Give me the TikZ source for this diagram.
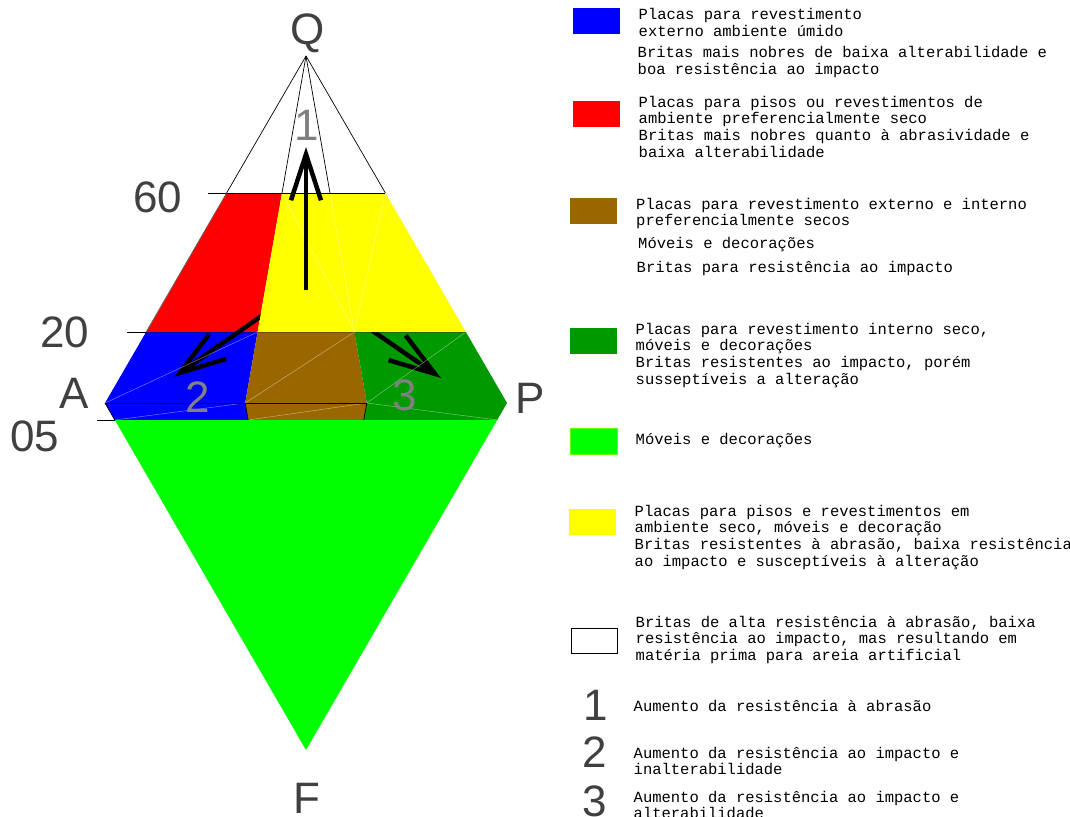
\documentclass[tikz,border=0pt]{standalone}
\usepackage{fontspec}
\setmonofont{Liberation Mono}
\newfontfamily\lblfont{Liberation Sans}
\usetikzlibrary{arrows.meta,positioning}
\definecolor{azul}{RGB}{0,0,255}
\definecolor{vermelho}{RGB}{255,0,0}
\definecolor{amarelo}{RGB}{255,255,0}
\definecolor{marrom}{RGB}{153,102,0}
\definecolor{verdeesc}{RGB}{0,153,0}
\definecolor{verdecla}{RGB}{0,255,0}

\begin{document}
\begin{tikzpicture}[x=1pt, y=-1pt,
    swatch/.style={rectangle, inner sep=0pt, minimum width=47pt, minimum height=26pt},
    legtext/.style={anchor=base west, inner sep=0pt, align=left, font=\ttfamily\fontsize{15.5}{16.7}\selectfont},
    biglbl/.style={anchor=base, inner sep=0pt, text=black!75, font=\lblfont\fontsize{44}{44}\selectfont},
    numlbl/.style={biglbl, text=black!50},
    edge/.style={line width=0.7pt},
    tri/.style={white, opacity=0.45, line width=0.5pt},
    vetor/.style={line width=4.5pt, -{Straight Barb[length=46pt, width=30pt, line width=4.5pt]}}
]
    \useasboundingbox (0,0) rectangle (1070,816);

    % Diagram points
    \coordinate (Qv) at (306,56);
    \coordinate (a60) at (226.6,193);
    \coordinate (b60) at (282,193);
    \coordinate (c60) at (330,193);
    \coordinate (d60) at (385.4,193);
    \coordinate (a20) at (146.1,332);
    \coordinate (b20) at (257.6,332);
    \coordinate (c20) at (354.4,332);
    \coordinate (d20) at (465.9,332);
    \coordinate (Av) at (105,403);
    \coordinate (b03) at (245.2,403);
    \coordinate (c03) at (366.8,403);
    \coordinate (Pv) at (507,403);
    \coordinate (a05) at (114.8,420);
    \coordinate (b05) at (248.2,420);
    \coordinate (c05) at (363.8,420);
    \coordinate (d05) at (497.2,420);
    \coordinate (Fv) at (306,750);
    \coordinate (t60) at (208,193);
    \coordinate (t20) at (127,332);
    \coordinate (t05) at (97,420);
    \coordinate (ori) at (306,285);
    \coordinate (base1) at (306,290);
    \coordinate (tip1) at (306,147);
    \coordinate (tip2) at (174,377);
    \coordinate (tip3) at (441,378);

    % Fields
    \fill[vermelho] (a60) -- (b60) -- (b20) -- (a20) -- cycle;
    \fill[azul] (a20) -- (b20) -- (b03) -- (b05) -- (a05) -- (Av) -- cycle;
    \fill[marrom] (b20) -- (c20) -- (c03) -- (c05) -- (b05) -- (b03) -- cycle;
    \fill[verdeesc] (c20) -- (d20) -- (Pv) -- (d05) -- (c05) -- (c03) -- cycle;
    \fill[verdecla] (a05) -- (d05) -- (Fv) -- cycle;

    % Arrows 2 and 3 (under the yellow field)
    \draw[vetor] (ori) -- (tip2);
    \draw[vetor] (ori) -- (tip3);

    \fill[amarelo] (b60) -- (d60) -- (d20) -- (b20) -- cycle;

    % Faint lines
    \draw[tri] (Av) -- (b20);
    \draw[tri] (a05) -- (b03);
    \draw[tri] (b03) -- (c20);
    \draw[tri] (b05) -- (c03);
    \draw[tri] (c03) -- (d20);
    \draw[tri] (c03) -- (d05);
    \draw[tri] (b60) -- (c20);
    \draw[tri] (c60) -- (c20);
    \draw[tri] (d60) -- (c20);

    % Outlines
    \draw[edge] (Qv) -- (a60);
    \draw[edge] (Qv) -- (b60);
    \draw[edge] (Qv) -- (c60);
    \draw[edge] (Qv) -- (d60);
    \draw[edge] (t60) -- (d60);
    \draw[edge] (t20) -- (a20);
    \draw[edge] (t05) -- (a05);
    \draw[edge, black!60] (a60) -- (a20);
    \draw[edge, black, opacity=0.35] (a20) -- (d20);
    \draw[edge] (Av) -- (c03);
    \draw[edge] (Av) -- (a05);
    \draw[edge] (b03) -- (b05);
    \draw[edge] (c03) -- (c05);

    % Arrow 1
    \draw[vetor] (base1) -- (tip1);

    % Labels
    \node[biglbl] (lQ) at (308,45) {Q};
    \node[biglbl] (lA) at (74,408) {A};
    \node[biglbl] (lP) at (530,413) {P};
    \node[biglbl] (lF) at (307,813) {F};
    \node[biglbl] (l60) at (158,212) {60};
    \node[biglbl] (l20) at (65,347) {20};
    \node[biglbl] (l05) at (35,451) {05};
    \node[numlbl] (n1) at (307,140) {1};
    \node[numlbl] (n2) at (198,412) {2};
    \node[numlbl] (n3) at (405,410) {3};

    % Legend (text nodes sit on the baseline of their last line)
    \node[swatch, fill=azul] (sw1) at (596.5,21.5) {};
    \node[legtext] (tx1a) at (638.5,36.7) {Placas para revestimento\\externo ambiente úmido};
    \node[legtext] (tx1b) at (637.5,74.7) {Britas mais nobres de baixa alterabilidade e\\boa resistência ao impacto};

    \node[swatch, fill=vermelho] (sw2) at (596.5,114) {};
    \node[legtext] (tx2) at (638.5,157.1) {Placas para pisos ou revestimentos de\\ambiente preferencialmente seco\\Britas mais nobres quanto à abrasividade e\\baixa alterabilidade};

    \node[swatch, fill=marrom] (sw3) at (593.5,211) {};
    \node[legtext] (tx3a) at (636,225.7) {Placas para revestimento externo e interno\\preferencialmente secos};
    \node[legtext] (tx3b) at (638,248) {Móveis e decorações};
    \node[legtext] (tx3c) at (636.5,272) {Britas para resistência ao impacto};

    \node[swatch, fill=verdeesc] (sw4) at (593.5,341) {};
    \node[legtext] (tx4) at (635.5,384.1) {Placas para revestimento interno seco,\\móveis e decorações\\Britas resistentes ao impacto, porém\\susseptíveis a alteração};

    \node[swatch, fill=verdecla, draw=green!60!yellow] (sw5) at (593.5,441) {};
    \node[legtext] (tx5) at (635.5,444) {Móveis e decorações};

    \node[swatch, fill=amarelo] (sw6) at (592.5,522) {};
    \node[legtext] (tx6) at (634.5,566.1) {Placas para pisos e revestimentos em\\ambiente seco, móveis e decoração\\Britas resistentes à abrasão, baixa resistência\\ao impacto e susceptíveis à alteração};

    \node[swatch, draw, line width=0.7pt, minimum width=46pt, minimum height=25pt] (sw7) at (594,640.5) {};
    \node[legtext] (tx7) at (635.5,660.4) {Britas de alta resistência à abrasão, baixa\\resistência ao impacto, mas resultando em\\matéria prima para areia artificial};

    \node[biglbl] (k1) at (596,720) {1};
    \node[legtext] (tx8) at (633.5,711) {Aumento da resistência à abrasão};
    \node[biglbl] (k2) at (595,767) {2};
    \node[legtext] (tx9) at (633.5,774.7) {Aumento da resistência ao impacto e\\inalterabilidade};
    \node[biglbl] (k3) at (595,816) {3};
    \node[legtext] (tx10) at (633.5,818.7) {Aumento da resistência ao impacto e\\alterabilidade};
\end{tikzpicture}
\end{document}
